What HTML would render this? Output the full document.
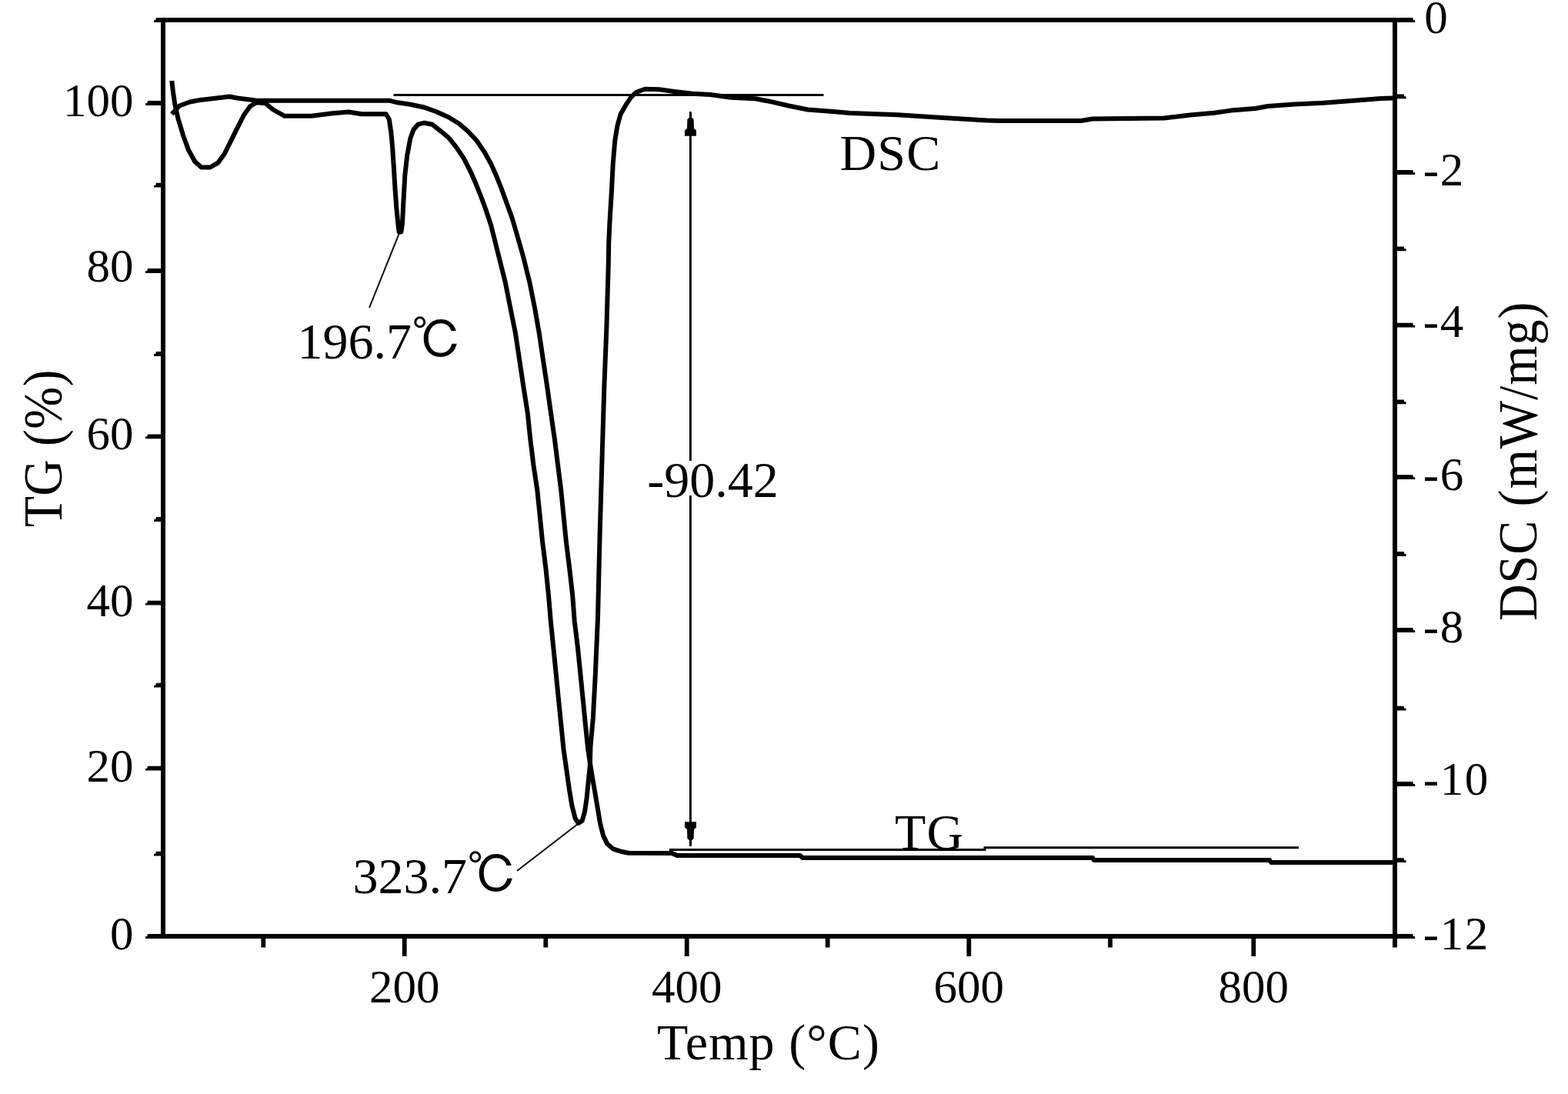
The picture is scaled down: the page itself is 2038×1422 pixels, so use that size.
<!DOCTYPE html>
<html lang="en"><head><meta charset="utf-8"><title>TG DSC</title>
<style>
html,body{margin:0;padding:0;background:#fff;}
body{width:2038px;height:1422px;overflow:hidden;}
svg{display:block;filter:blur(0.55px);}
text{font-family:"Liberation Serif","Noto Serif CJK SC",serif;fill:#000;}
.tk{font-size:61px;}
.tr{letter-spacing:1.6px;}
.an{font-size:66px;}
.ax{font-size:66px;letter-spacing:1.1px;}
.lb{font-size:66px;letter-spacing:1.2px;}
.c{fill:none;stroke:#000;stroke-width:6;stroke-linejoin:round;stroke-linecap:butt;}
.t{fill:none;stroke:#000;stroke-width:2.9;}
.l{fill:none;stroke:#000;stroke-width:1.9;}
.dc{font-family:"Liberation Serif","IPAGothic","Noto Serif CJK SC",serif;}
</style></head><body>
<svg width="2038" height="1422" viewBox="0 0 2038 1422">
<rect x="0" y="0" width="2038" height="1422" fill="#fff"/>
<g stroke="#000" fill="none">
<line x1="212.0" y1="23.0" x2="212.0" y2="1220.0" stroke-width="6.0"/>
<line x1="1813.0" y1="23.0" x2="1813.0" y2="1231.5" stroke-width="6.0"/>
<path d="M203 23.0 L1836.2 23.0 L1837.0 26.0 L1839.2 26.3 L1839.2 29.0 L200 29.0 L200 26.3 L202.2 26.0 Z" fill="#000" stroke="none"/>
<path d="M192 1214.0 L1836.2 1214.0 L1837.0 1217.0 L1839.2 1217.3 L1839.2 1220.0 L189 1220.0 L189 1217.3 L191.2 1217.0 Z" fill="#000" stroke="none"/>
<path d="M212.0 1106.8 L203 1106.8 L202.2 1109.7 L200 1110.0 L200 1112.6 L212.0 1112.6 Z" fill="#000" stroke="none"/>
<path d="M212.0 995.8 L192 995.8 L191.2 998.7 L189 999.0 L189 1001.6 L212.0 1001.6 Z" fill="#000" stroke="none"/>
<path d="M212.0 887.8 L203 887.8 L202.2 890.7 L200 891.0 L200 893.6 L212.0 893.6 Z" fill="#000" stroke="none"/>
<path d="M212.0 780.8 L192 780.8 L191.2 783.7 L189 784.0 L189 786.6 L212.0 786.6 Z" fill="#000" stroke="none"/>
<path d="M212.0 672.1 L203 672.1 L202.2 675.0 L200 675.3 L200 677.9 L212.0 677.9 Z" fill="#000" stroke="none"/>
<path d="M212.0 564.4 L192 564.4 L191.2 567.3 L189 567.6 L189 570.2 L212.0 570.2 Z" fill="#000" stroke="none"/>
<path d="M212.0 457.1 L203 457.1 L202.2 460.0 L200 460.3 L200 462.9 L212.0 462.9 Z" fill="#000" stroke="none"/>
<path d="M212.0 349.1 L192 349.1 L191.2 352.0 L189 352.3 L189 354.9 L212.0 354.9 Z" fill="#000" stroke="none"/>
<path d="M212.0 237.8 L203 237.8 L202.2 240.7 L200 241.0 L200 243.6 L212.0 243.6 Z" fill="#000" stroke="none"/>
<path d="M212.0 131.1 L192 131.1 L191.2 134.0 L189 134.3 L189 136.9 L212.0 136.9 Z" fill="#000" stroke="none"/>
<path d="M1813.0 1115.3 L1824.6 1115.3 L1825.3999999999999 1118.2 L1827.6 1118.5 L1827.6 1121.1 L1813.0 1121.1 Z" fill="#000" stroke="none"/>
<path d="M1813.0 1016.1 L1836.2 1016.1 L1837.0 1019.0 L1839.2 1019.3 L1839.2 1021.9 L1813.0 1021.9 Z" fill="#000" stroke="none"/>
<path d="M1813.0 917.8 L1824.6 917.8 L1825.3999999999999 920.7 L1827.6 921.0 L1827.6 923.6 L1813.0 923.6 Z" fill="#000" stroke="none"/>
<path d="M1813.0 816.1 L1836.2 816.1 L1837.0 819.0 L1839.2 819.3 L1839.2 821.9 L1813.0 821.9 Z" fill="#000" stroke="none"/>
<path d="M1813.0 717.1 L1824.6 717.1 L1825.3999999999999 720.0 L1827.6 720.3 L1827.6 722.9 L1813.0 722.9 Z" fill="#000" stroke="none"/>
<path d="M1813.0 617.3 L1836.2 617.3 L1837.0 620.2 L1839.2 620.5 L1839.2 623.1 L1813.0 623.1 Z" fill="#000" stroke="none"/>
<path d="M1813.0 519.4 L1824.6 519.4 L1825.3999999999999 522.3 L1827.6 522.6 L1827.6 525.2 L1813.0 525.2 Z" fill="#000" stroke="none"/>
<path d="M1813.0 419.8 L1836.2 419.8 L1837.0 422.7 L1839.2 423.0 L1839.2 425.6 L1813.0 425.6 Z" fill="#000" stroke="none"/>
<path d="M1813.0 320.4 L1824.6 320.4 L1825.3999999999999 323.3 L1827.6 323.6 L1827.6 326.2 L1813.0 326.2 Z" fill="#000" stroke="none"/>
<path d="M1813.0 221.1 L1836.2 221.1 L1837.0 224.0 L1839.2 224.3 L1839.2 226.9 L1813.0 226.9 Z" fill="#000" stroke="none"/>
<path d="M1813.0 122.4 L1824.6 122.4 L1825.3999999999999 125.3 L1827.6 125.6 L1827.6 128.2 L1813.0 128.2 Z" fill="#000" stroke="none"/>
<line x1="342.3" y1="1217.0" x2="342.3" y2="1231.5" stroke-width="5.8"/>
<line x1="525.7" y1="1217.0" x2="525.7" y2="1243.0" stroke-width="5.8"/>
<line x1="709.3" y1="1217.0" x2="709.3" y2="1231.5" stroke-width="5.8"/>
<line x1="892.7" y1="1217.0" x2="892.7" y2="1243.0" stroke-width="5.8"/>
<line x1="1075.7" y1="1217.0" x2="1075.7" y2="1231.5" stroke-width="5.8"/>
<line x1="1259.3" y1="1217.0" x2="1259.3" y2="1243.0" stroke-width="5.8"/>
<line x1="1443.0" y1="1217.0" x2="1443.0" y2="1231.5" stroke-width="5.8"/>
<line x1="1629.3" y1="1217.0" x2="1629.3" y2="1243.0" stroke-width="5.8"/>
</g>
<line class="t" x1="511.5" y1="123.5" x2="1070.5" y2="123.5"/>
<polyline class="t" points="870,1104.5 1280,1104.5 1280,1101.8 1688,1101.8"/>
<line class="l" x1="519" y1="303" x2="480" y2="400"/>
<line class="l" x1="751" y1="1071" x2="672" y2="1132"/>
<line class="t" x1="897.4" y1="146" x2="897.4" y2="599"/>
<line class="t" x1="897.4" y1="644" x2="897.4" y2="1099"/>
<path d="M896.2 145 L898.8 145 L899.2 153 L901.6 155 L902 167 L905 169.5 L905 176.7 L890 176.7 L890 169.5 L893 167 L893.4 155 L895.8 153 Z" fill="#000"/>
<path d="M896.2 1100 L898.8 1100 L899.2 1092 L901.6 1090 L902 1078 L905 1075.5 L905 1068.3 L890 1068.3 L890 1075.5 L893 1078 L893.4 1090 L895.8 1092 Z" fill="#000"/>
<polyline class="c" points="223.3,148.3 233.3,137.5 246.7,132.5 260.0,130.0 280.0,127.8 298.3,125.5 308.3,127.5 328.3,130.0 333.0,130.8 506.7,130.8 516.7,133.3 533.3,135.8 550.0,139.2 566.7,145.0 583.3,152.5 596.7,160.8 608.3,170.8 620.0,183.3 630.0,198.3 638.3,213.3 645.0,228.3 651.7,245.0 658.3,263.3 665.0,281.7 670.5,300.0 680.0,333.3 688.3,366.7 695.0,400.0 700.8,433.3 705.8,466.7 710.8,500.0 716.0,537.0 720.8,570.3 725.0,603.7 729.2,637.0 732.5,670.3 735.8,703.7 740.0,737.0 744.2,774.0 746.7,807.3 750.8,840.7 754.2,874.0 757.5,907.3 760.8,940.7 764.2,974.0 769.0,1005.0 773.3,1030.0 776.7,1050.0 780.0,1070.0 784.2,1086.7 789.2,1096.7 796.7,1103.3 806.7,1106.7 816.7,1108.7 873.3,1109.0 880.0,1112.0 1040.0,1112.0 1043.0,1115.0 1420.0,1115.0 1422.0,1118.0 1650.0,1118.0 1652.0,1120.9 1810.0,1120.9"/>
<polyline class="c" points="223.3,105.0 225.0,120.0 227.5,136.7 231.7,155.0 238.3,176.7 245.0,195.0 253.3,210.0 261.7,217.5 273.3,217.5 283.3,211.7 291.7,200.0 300.0,183.3 308.3,166.7 316.7,150.0 325.0,138.3 333.3,133.3 345.0,134.2 355.0,142.5 370.0,150.8 405.0,150.8 430.0,147.5 453.0,145.5 470.0,148.3 501.7,148.3 505.8,155.0 508.3,172.0 510.0,190.0 511.7,215.0 513.6,246.7 515.3,270.0 517.2,290.0 518.6,301.5 521.4,301.5 523.0,290.0 524.4,262.0 526.3,228.0 529.2,202.0 533.3,180.0 537.5,168.5 543.3,161.7 551.7,159.7 561.7,161.7 573.3,170.8 583.3,179.2 593.3,191.7 603.3,206.7 611.7,223.3 618.3,238.3 625.0,255.0 631.7,273.3 638.3,293.3 640.0,300.0 648.3,333.3 656.7,366.7 663.3,400.0 670.0,433.3 675.0,466.7 680.0,500.0 685.8,537.0 689.2,570.3 693.3,603.7 698.3,637.0 701.7,670.3 705.0,703.7 709.2,737.0 713.0,774.0 715.8,807.3 719.2,840.7 722.5,874.0 725.8,907.3 729.2,940.7 732.5,974.0 736.7,1003.3 740.0,1026.7 743.3,1046.7 747.5,1063.3 751.7,1070.0 756.7,1066.7 760.0,1055.0 762.5,1038.3 765.0,1013.3 766.7,996.7 767.5,970.0 770.8,934.0 773.8,877.0 777.0,803.0 779.5,699.0 782.8,587.0 785.3,504.0 788.3,428.0 790.8,343.0 791.2,316.7 792.5,288.3 795.0,246.7 796.7,213.3 799.2,183.3 802.5,163.3 806.7,148.3 813.3,136.7 820.0,126.7 826.7,120.0 838.3,115.8 856.7,116.3 878.3,119.2 900.0,121.7 923.3,123.0 950.0,126.7 981.7,128.3 1000.0,131.7 1025.0,137.5 1050.0,142.5 1083.0,145.0 1105.0,147.0 1166.7,149.2 1216.7,152.5 1283.3,156.6 1300.0,157.0 1405.0,157.0 1420.0,154.5 1513.0,153.5 1546.7,149.5 1578.0,146.7 1600.0,143.6 1631.7,141.0 1648.0,138.0 1683.0,135.5 1720.0,133.7 1760.0,130.8 1795.0,128.0 1811.0,127.5"/>
<text class="tk" x="173.5" y="1234.2" text-anchor="end">0</text>
<text class="tk" x="173.5" y="1016.0" text-anchor="end">20</text>
<text class="tk" x="173.5" y="800.5" text-anchor="end">40</text>
<text class="tk" x="173.5" y="584.3" text-anchor="end">60</text>
<text class="tk" x="173.5" y="366.3" text-anchor="end">80</text>
<text class="tk" x="173.5" y="150.8" text-anchor="end">100</text>
<text class="tk tr" x="1851.3" y="42.5">0</text>
<text class="tk tr" x="1849.8" y="241.0">-2</text>
<text class="tk tr" x="1849.8" y="438.0">-4</text>
<text class="tk tr" x="1849.8" y="637.0">-6</text>
<text class="tk tr" x="1849.8" y="835.3">-8</text>
<text class="tk tr" x="1849.8" y="1033.3">-10</text>
<text class="tk tr" x="1849.8" y="1233.8">-12</text>
<text class="tk" x="525.7" y="1303" text-anchor="middle">200</text>
<text class="tk" x="892.7" y="1303" text-anchor="middle">400</text>
<text class="tk" x="1259.3" y="1303" text-anchor="middle">600</text>
<text class="tk" x="1629.3" y="1303" text-anchor="middle">800</text>
<text class="ax" x="999" y="1376.5" text-anchor="middle">Temp (°C)</text>
<text class="ax" style="letter-spacing:0.3px" transform="translate(80.3,582.7) rotate(-90) scale(1,1.1)" text-anchor="middle">TG (%)</text>
<text class="ax" style="letter-spacing:0.95px" transform="translate(1997.3,599.3) rotate(-90) scale(1,1.08)" text-anchor="middle">DSC (mW/mg)</text>
<text class="lb" x="1091.5" y="221">DSC</text>
<text class="lb" x="1163" y="1103.5">TG</text>
<text class="an" x="841.2" y="646">-90.42</text>
<text class="an dc" x="386.5" y="465.5">196.7℃</text>
<text class="an dc" x="458.5" y="1161.3">323.7℃</text>
</svg>
</body></html>
